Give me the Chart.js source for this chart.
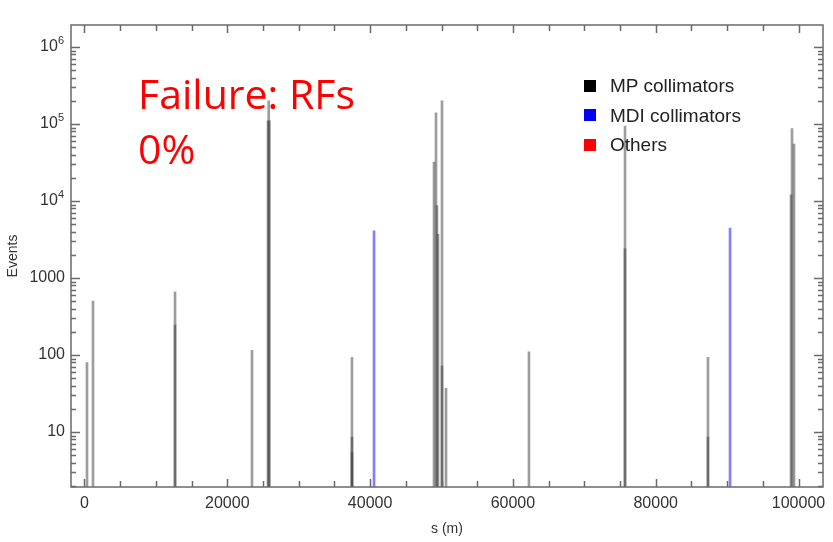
<!DOCTYPE html>
<html>
<head>
<meta charset="utf-8">
<script src="https://cdn.jsdelivr.net/npm/chart.js@4"></script>
<style>
  body { margin: 0; background: #fff; }
  #wrap { position: relative; width: 833px; height: 542px; }
  #note {
    position: absolute; left: 138px; top: 66px;
    font: 41px/55px "Open Sans", sans-serif; color: #ff0000;
  }
  #legend {
    position: absolute; left: 584px; top: 71px;
    font: 19px/29.5px "Liberation Sans", Arial, sans-serif; color: #222;
  }
  #legend div { display: flex; align-items: center; }
  #legend span.box { width: 12px; height: 12px; margin-right: 14px; display: inline-block; }
</style>
</head>
<body>
<div id="wrap">
  <canvas id="events-chart"></canvas>
  <div id="note">Failure: RFs<br>0%</div>
  <div id="legend"></div>
</div>
<script>
// positions along the ring (m) and event counts
const mpPos    = [350, 1190, 12680, 12680, 23460, 25700, 25800, 25900, 37460, 37460, 37460,
                  48950, 49230, 49370, 49510, 50070, 50070, 50630, 62250, 75700, 75700,
                  87320, 87320, 98950, 99090, 99370];
const mpEvents = [80, 500, 660, 245, 115, 110000, 200000, 110000, 93, 8.6, 5.4,
                  32000, 140000, 8700, 3700, 200000, 72, 37, 110, 94000, 2400,
                  93, 8.6, 12000, 87000, 55000];
const mdiPos    = [40550, 90410];
const mdiEvents = [4100, 4450];
const othersPos    = [];
const othersEvents = [];

const xLabelValues = [0, 20000, 40000, 60000, 80000, 100000];
const yLabelValues = [10, 100, 1000, 1e4, 1e5, 1e6];
const seriesNames  = ['MP collimators', 'MDI collimators', 'Others'];
const legendColors = ['#000000', '#0000ff', '#ff0000'];

const toPoints = (xs, ys) => xs.map((x, i) => ({ x, y: ys[i] }));

// legend
document.getElementById('legend').innerHTML = seriesNames.map((n, i) =>
  `<div><span class="box" style="background:${legendColors[i]}"></span>${n}</div>`).join('');

// frame, inward tick marks and power-of-ten labels, placed via the chart's scales
const frameTicks = {
  id: 'frameTicks',
  afterDraw(chart) {
    const { ctx, chartArea: a, scales: { x, y } } = chart;
    ctx.save();
    ctx.strokeStyle = '#6a6a6a';
    ctx.lineWidth = 1.5;
    ctx.beginPath();
    for (let s = 0; s <= 100000; s += 5000) {
      const px = Math.round(x.getPixelForValue(s)) + 0.5;
      const len = s % 20000 === 0 ? 8 : 6;
      ctx.moveTo(px, a.bottom); ctx.lineTo(px, a.bottom - len);
      ctx.moveTo(px, a.top); ctx.lineTo(px, a.top + len);
    }
    for (let d = 0; d <= 6; d++) {
      for (let m = 1; m <= 9; m++) {
        const v = m * Math.pow(10, d);
        if (v < y.min || v > y.max) continue;
        const py = Math.round(y.getPixelForValue(v)) + 0.5;
        const len = m === 1 ? 9 : 5;
        ctx.moveTo(a.left, py); ctx.lineTo(a.left + len, py);
        ctx.moveTo(a.right, py); ctx.lineTo(a.right - len, py);
      }
    }
    ctx.stroke();
    ctx.strokeRect(a.left, a.top, a.right - a.left, a.bottom - a.top);

    // 10^n labels with a raised exponent
    ctx.fillStyle = '#333';
    ctx.textBaseline = 'middle';
    ctx.textAlign = 'right';
    yLabelValues.forEach(v => {
      const e = Math.round(Math.log10(v));
      if (e < 4) return;
      const py = y.getPixelForValue(v);
      const right = a.left - 7;
      ctx.font = '11px "Liberation Sans"';
      const ew = ctx.measureText(String(e)).width;
      ctx.fillText(String(e), right, py - 6);
      ctx.font = '16px "Liberation Sans"';
      ctx.fillText('10', right - ew, py);
    });
    ctx.restore();
  }
};

const ctx = document.getElementById('events-chart').getContext('2d');
new Chart(ctx, {
  type: 'bar',
  data: {
    datasets: [
      { label: seriesNames[0], data: toPoints(mpPos, mpEvents), backgroundColor: 'rgba(60,60,60,0.5)' },
      { label: seriesNames[1], data: toPoints(mdiPos, mdiEvents), backgroundColor: 'rgba(0,0,255,0.5)' },
      { label: seriesNames[2], data: toPoints(othersPos, othersEvents), backgroundColor: 'rgba(255,0,0,0.6)' },
    ],
  },
  options: {
    responsive: true,
    maintainAspectRatio: false,
    animation: false,
    barThickness: 2,
    grouped: false,
    borderWidth: 0,
    layout: { padding: { top: 25, right: 10, left: 0, bottom: 0 } },
    plugins: { legend: { display: false }, tooltip: { enabled: false } },
    scales: {
      x: {
        type: 'linear',
        min: -1890,
        max: 103430,
        offset: false,
        grid: { display: false, drawTicks: false },
        border: { display: false },
        afterBuildTicks(axis) { axis.ticks = xLabelValues.map(v => ({ value: v })); },
        afterFit(axis) { axis.height = 55; },
        ticks: {
          color: '#333', padding: 7, maxRotation: 0,
          font: { family: 'Liberation Sans', size: 16 },
          callback: v => String(v),
        },
        title: {
          display: true, text: 's (m)', color: '#333', padding: { top: 4, bottom: 4 },
          font: { family: 'Liberation Sans', size: 14 },
        },
      },
      y: {
        type: 'logarithmic',
        min: 1.93,
        max: 1.93e6,
        grid: { display: false, drawTicks: false },
        border: { display: false },
        afterBuildTicks(axis) { axis.ticks = yLabelValues.map(v => ({ value: v })); },
        afterFit(axis) { axis.width = 71; },
        ticks: {
          color: '#333', padding: 6,
          font: { family: 'Liberation Sans', size: 16 },
          callback(v) { return v >= 1e4 ? '' : String(v); },
        },
        title: {
          display: true, text: 'Events', color: '#333', padding: { top: 5, bottom: 4 },
          font: { family: 'Liberation Sans', size: 14 },
        },
      },
    },
  },
  plugins: [frameTicks],
});
</script>
</body>
</html>
